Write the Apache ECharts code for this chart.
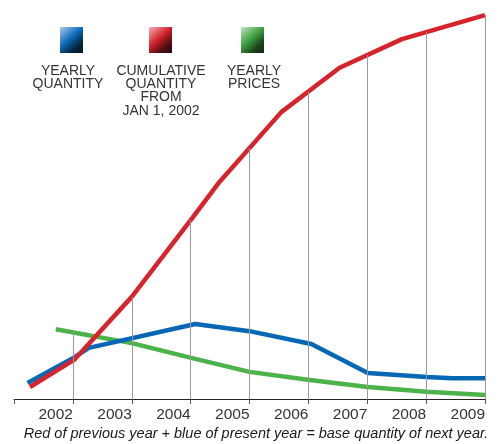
<!DOCTYPE html>
<html>
<head>
<meta charset="utf-8">
<script src="https://cdn.jsdelivr.net/npm/echarts@6/dist/echarts.min.js"></script>
<style>
  html, body { margin: 0; padding: 0; background: #fff; }
  #chart { width: 497px; height: 444px; }
</style>
</head>
<body>
<div id="chart"></div>
<script>
// tick years on the x axis
const years = [2001, 2002, 2003, 2004, 2005, 2006, 2007, 2008, 2009]

// yearly quantity (blue)
const quantityYears = [2001.23, 2002.03, 2002.27, 2004.08, 2005.0, 2006.05, 2007.01, 2008.01, 2008.45, 2009.0]
const quantityValues = [4.0, 10.5, 12.8, 18.8, 17.0, 13.8, 6.5, 5.5, 5.2, 5.2]

// cumulative quantity from jan 1, 2002 (red)
const cumulativeYears = [2001.27, 2002.02, 2003.0, 2004.03, 2004.49, 2005.54, 2006.53, 2007.59, 2009.0]
const cumulativeValues = [3.0, 9.8, 25.6, 45.4, 54.4, 71.9, 83.0, 90.2, 96.2]

// yearly prices (green)
const priceYears = [2001.71, 2003.0, 2004.01, 2005.0, 2005.99, 2007.01, 2008.01, 2009.0]
const priceValues = [17.5, 14.0, 10.3, 6.8, 4.8, 3.0, 1.8, 1.0]

const caption = 'Red of previous year + blue of present year = base quantity of next year.'

function pairs (xs, ys) {
  return xs.map((x, i) => [x, ys[i]])
}

// value of a polyline at x, null outside its range
function valueAt (xs, ys, x) {
  for (let i = 0; i < xs.length - 1; i++) {
    if (x >= xs[i] && x <= xs[i + 1]) {
      const t = (x - xs[i]) / (xs[i + 1] - xs[i])
      return ys[i] + t * (ys[i + 1] - ys[i])
    }
  }
  return null
}

// drop lines: from the axis up to the highest line at each year
const dropLines = years.slice(1).map(y => {
  const tops = [
    valueAt(quantityYears, quantityValues, y),
    valueAt(cumulativeYears, cumulativeValues, y),
    valueAt(priceYears, priceValues, y)
  ].filter(v => v !== null)
  return [{ coord: [y, 0] }, { coord: [y, Math.max.apply(null, tops)] }]
})

const font = '"Liberation Sans", Arial, sans-serif'

function square (x, stops) {
  return {
    type: 'rect',
    shape: { x: x, y: 27, width: 23, height: 26 },
    style: {
      fill: new echarts.graphic.LinearGradient(0, 0, 1, 1, stops)
    }
  }
}

function label (x, text) {
  return {
    type: 'text',
    x: x,
    y: 64,
    style: {
      text: text,
      fill: '#333',
      font: '14px ' + font,
      align: 'center',
      verticalAlign: 'top',
      lineHeight: 13.4
    }
  }
}

const option = {
  animation: false,
  grid: {
    left: 14,
    right: 12,
    top: 0,
    bottom: 45
  },
  xAxis: {
    type: 'value',
    min: 2001,
    max: 2009,
    interval: 1,
    splitLine: { show: false },
    axisLine: { lineStyle: { color: '#222', width: 1 } },
    axisTick: { length: 5, lineStyle: { color: '#555' } },
    axisLabel: {
      margin: 8,
      align: 'right',
      color: '#333',
      fontSize: 15.5,
      fontFamily: font,
      formatter: v => (v === 2001 ? '' : String(v))
    }
  },
  yAxis: {
    type: 'value',
    min: 0,
    max: 100,
    show: false
  },
  series: [
    {
      name: 'drop',
      type: 'line',
      data: [],
      silent: true,
      z: 1,
      markLine: {
        silent: true,
        symbol: 'none',
        label: { show: false },
        lineStyle: { color: '#9a9a9a', width: 1, type: 'solid' },
        data: dropLines
      }
    },
    {
      name: 'YEARLY PRICES',
      type: 'line',
      data: pairs(priceYears, priceValues),
      showSymbol: false,
      z: 2,
      lineStyle: { color: '#4cb34a', width: 4.5 }
    },
    {
      name: 'YEARLY QUANTITY',
      type: 'line',
      data: pairs(quantityYears, quantityValues),
      showSymbol: false,
      z: 3,
      lineStyle: { color: '#0667b5', width: 4.5 }
    },
    {
      name: 'CUMULATIVE QUANTITY',
      type: 'line',
      data: pairs(cumulativeYears, cumulativeValues),
      showSymbol: false,
      z: 4,
      lineStyle: { color: '#d7242c', width: 4.5 }
    }
  ],
  graphic: [
    square(60, [
      { offset: 0, color: '#a9cdee' },
      { offset: 0.45, color: '#0b68b8' },
      { offset: 0.75, color: '#06263f' },
      { offset: 1, color: '#031624' }
    ]),
    square(149, [
      { offset: 0, color: '#f4b1b5' },
      { offset: 0.45, color: '#cf1f2a' },
      { offset: 0.75, color: '#4d0e12' },
      { offset: 1, color: '#2c0809' }
    ]),
    square(241, [
      { offset: 0, color: '#c2e6bf' },
      { offset: 0.45, color: '#3d9d3e' },
      { offset: 0.75, color: '#1c421c' },
      { offset: 1, color: '#132813' }
    ]),
    label(68, 'YEARLY\nQUANTITY'),
    label(161, 'CUMULATIVE\nQUANTITY\nFROM\nJAN 1, 2002'),
    label(254, 'YEARLY\nPRICES'),
    {
      type: 'text',
      x: 256,
      y: 434,
      style: {
        text: caption,
        fill: '#1a1a1a',
        font: 'italic 14.5px ' + font,
        align: 'center',
        verticalAlign: 'middle'
      }
    }
  ]
}

const chart = echarts.init(document.getElementById('chart'))
chart.setOption(option)
</script>
</body>
</html>
